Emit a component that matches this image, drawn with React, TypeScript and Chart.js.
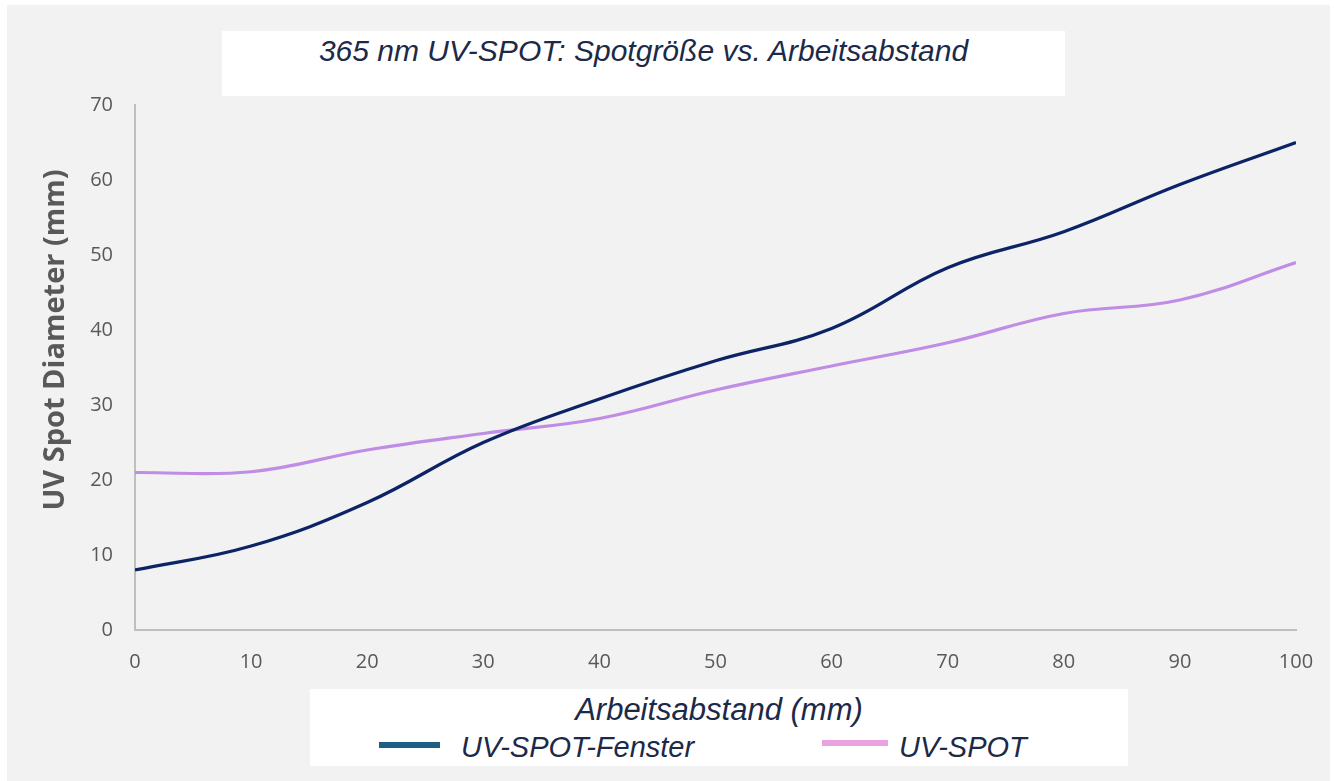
import React, { useEffect, useRef } from "react";
import { Chart, registerables } from "chart.js";

Chart.register(...registerables);

// ---- data ----
const distances = [0, 10, 20, 30, 40, 50, 60, 70, 80, 90, 100];
const fensterValues = [8, 11.2, 17, 25, 30.8, 35.9, 40.2, 48.3, 53.1, 59.4, 65];
const spotValues = [21, 21.1, 24, 26.2, 28.2, 32, 35.2, 38.3, 42.2, 44, 49];
const seriesNames = ["UV-SPOT-Fenster", "UV-SPOT"];
const chartTitle = "365 nm UV-SPOT: Spotgröße vs. Arbeitsabstand";
const xTitle = "Arbeitsabstand (mm)";
const yTitle = "UV Spot Diameter (mm)";

const navy = "#0c2366";
const lavender = "#c08de6";
const legendNavy = "#1d5f83";
const legendPink = "#e8a2df";
const textNavy = "#1c2a48";
const axisGray = "#595959";

export default function App() {
  const canvasRef = useRef<HTMLCanvasElement | null>(null);

  useEffect(() => {
    const canvas = canvasRef.current;
    if (!canvas) return;
    const chart = new Chart(canvas, {
      type: "line",
      data: {
        datasets: [
          {
            label: seriesNames[0],
            data: distances.map((x, i) => ({ x, y: fensterValues[i] })),
            borderColor: navy,
            borderWidth: 3.2,
            pointRadius: 0,
            tension: 0.4,
            fill: false,
          },
          {
            label: seriesNames[1],
            data: distances.map((x, i) => ({ x, y: spotValues[i] })),
            borderColor: lavender,
            borderWidth: 3.2,
            pointRadius: 0,
            tension: 0.4,
            fill: false,
          },
        ],
      },
      options: {
        responsive: false,
        maintainAspectRatio: false,
        animation: false,
        layout: { padding: { left: 0, top: 105, right: 42, bottom: 101 } },
        plugins: {
          legend: { display: false },
          title: { display: false },
          tooltip: { enabled: false },
        },
        scales: {
          x: {
            type: "linear",
            min: 0,
            max: 100,
            grid: { display: false, drawTicks: false, tickLength: 0 },
            border: { display: true, color: "#bfbfbf", width: 2 },
            ticks: {
              stepSize: 10,
              color: axisGray,
              padding: 20,
              font: { family: "'Open Sans', sans-serif", size: 20 },
            },
            afterFit: (s: any) => {
              s.height = 50;
            },
          },
          y: {
            min: 0,
            max: 70,
            grid: { display: false, drawTicks: false, tickLength: 0 },
            border: { display: true, color: "#bfbfbf", width: 2 },
            ticks: {
              stepSize: 10,
              color: axisGray,
              padding: 22,
              font: { family: "'Open Sans', sans-serif", size: 20 },
            },
            afterFit: (s: any) => {
              s.width = 135;
            },
          },
        },
      },
    } as any);
    return () => chart.destroy();
  }, []);

  const textFont = "'Liberation Sans', Arial, sans-serif";

  return (
    <div
      style={{
        position: "absolute",
        left: 0,
        top: 0,
        width: 1338,
        height: 781,
        background: "#ffffff",
        overflow: "hidden",
      }}
    >
      <div
        style={{
          position: "absolute",
          left: 7,
          top: 5,
          width: 1323,
          height: 776,
          background: "#f2f2f2",
        }}
      />
      <canvas
        ref={canvasRef}
        width={1338}
        height={781}
        style={{ position: "absolute", left: 0, top: 0, width: 1338, height: 781 }}
      />
      <div
        style={{
          position: "absolute",
          left: 53 - 200,
          top: 340 - 20,
          width: 400,
          height: 40,
          lineHeight: "40px",
          textAlign: "center",
          transform: "rotate(-90deg)",
          fontFamily: "'Open Sans', sans-serif",
          fontWeight: "bold",
          fontSize: 29,
          color: axisGray,
          whiteSpace: "nowrap",
        }}
      >
        {yTitle}
      </div>
      <div
        style={{
          position: "absolute",
          left: 222,
          top: 31,
          width: 843,
          height: 65,
          background: "#ffffff",
          boxSizing: "border-box",
          textAlign: "center",
          fontFamily: textFont,
          fontStyle: "italic",
          fontSize: 30,
          color: textNavy,
          lineHeight: "38px",
          paddingTop: 1,
          whiteSpace: "nowrap",
        }}
      >
        {chartTitle}
      </div>
      <div
        style={{
          position: "absolute",
          left: 310,
          top: 689,
          width: 818,
          height: 77,
          background: "#ffffff",
          fontFamily: textFont,
          fontStyle: "italic",
          color: textNavy,
        }}
      >
        <div
          style={{
            position: "absolute",
            left: 0,
            top: 3,
            width: 818,
            textAlign: "center",
            fontSize: 31,
            lineHeight: "36px",
            whiteSpace: "nowrap",
          }}
        >
          {xTitle}
        </div>
        <div
          style={{
            position: "absolute",
            left: 69,
            top: 53,
            width: 61,
            height: 6,
            background: legendNavy,
          }}
        />
        <div
          style={{
            position: "absolute",
            left: 151,
            top: 41,
            fontSize: 29,
            lineHeight: "34px",
            whiteSpace: "nowrap",
          }}
        >
          {seriesNames[0]}
        </div>
        <div
          style={{
            position: "absolute",
            left: 512,
            top: 51,
            width: 66,
            height: 6,
            background: legendPink,
          }}
        />
        <div
          style={{
            position: "absolute",
            left: 589,
            top: 41,
            fontSize: 29,
            lineHeight: "34px",
            whiteSpace: "nowrap",
          }}
        >
          {seriesNames[1]}
        </div>
      </div>
    </div>
  );
}
